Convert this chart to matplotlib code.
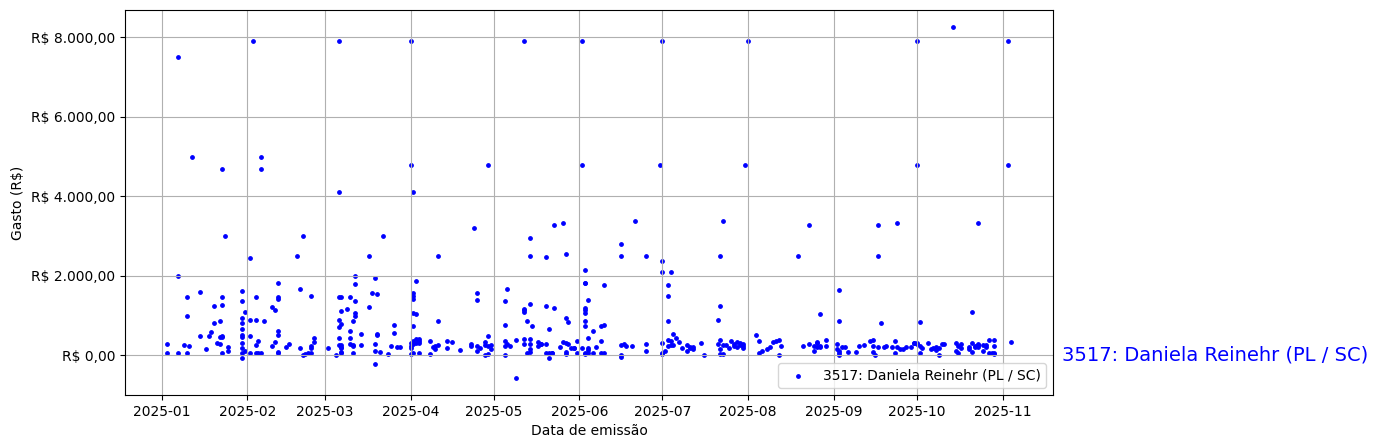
import matplotlib
matplotlib.use("Agg")
import matplotlib.pyplot as plt
import matplotlib.dates as mdates
import matplotlib.ticker as mticker
import matplotlib.transforms as mtransforms
import pandas as pd

label = "3517: Daniela Reinehr (PL / SC)"

jan = [("01-03", 285), ("01-03", 67), ("01-07", 7500), ("01-07", 2000), ("01-07", 50),
       ("01-09", 268), ("01-10", 1477), ("01-10", 998), ("01-11", 243), ("01-10", 59),
       ("01-12", 5000), ("01-15", 1602), ("01-15", 495), ("01-17", 151), ("01-18", 495),
       ("01-19", 596), ("01-20", 822), ("01-20", 1250), ("01-21", 319), ("01-22", 856),
       ("01-22", 294), ("01-22", 470), ("01-23", 4680), ("01-23", 1275), ("01-23", 1477),
       ("01-23", 495), ("01-23", 461), ("01-23", 59), ("01-24", 3000), ("01-25", 218),
       ("01-25", 109), ("01-30", 1628), ("01-30", 1376), ("01-30", 948), ("01-30", 822),
       ("01-30", 671), ("01-30", 520), ("01-30", 461), ("01-30", 319), ("01-30", 193),
       ("01-30", 67), ("01-30", -59), ("01-31", 1099), ("01-31", 109)]
feb = [("02-02", 2458), ("02-02", 495), ("02-02", 67), ("02-02", 898), ("02-03", 7900),
       ("02-04", 1477), ("02-04", 898), ("02-04", 268), ("02-04", 67), ("02-05", 369),
       ("02-05", 67), ("02-06", 5000), ("02-06", 4700), ("02-06", 67), ("02-07", 873),
       ("02-10", 243), ("02-10", 1225), ("02-11", 1150), ("02-11", 344), ("02-12", 1829),
       ("02-12", 1477), ("02-12", 1426), ("02-12", 621), ("02-12", 520), ("02-12", 92),
       ("02-12", 50), ("02-15", 218), ("02-16", 294), ("02-19", 2500), ("02-20", 1678),
       ("02-20", 193), ("02-21", 3000), ("02-21", 17), ("02-22", 42), ("02-23", 67),
       ("02-24", 67), ("02-24", 193), ("02-24", 243), ("02-25", 344), ("02-25", 445),
       ("02-24", 1502)]
mar = [("03-02", 193), ("03-05", 17), ("03-06", 7900), ("03-06", 4100), ("03-06", 898),
       ("03-06", 722), ("03-06", 445), ("03-06", 268), ("03-07", 193), ("03-07", 92),
       ("03-07", 268), ("03-07", 67), ("03-07", 218), ("03-06", 1477), ("03-07", 1477),
       ("03-07", 1124), ("03-07", 797), ("03-09", 1175), ("03-10", 1477), ("03-10", 621),
       ("03-10", 445), ("03-10", 294), ("03-11", 873), ("03-11", 243), ("03-11", 268),
       ("03-11", 67), ("03-12", 1376), ("03-12", 1074), ("03-12", 998), ("03-12", 1804),
       ("03-12", 2005), ("03-14", 268), ("03-14", 545), ("03-17", 1225), ("03-17", 2500),
       ("03-18", 1577), ("03-19", 1955), ("03-19", 294), ("03-19", 117), ("03-19", -210),
       ("03-20", 1552), ("03-20", 545), ("03-20", 520), ("03-21", 92), ("03-22", 3000),
       ("03-24", 42), ("03-25", 243), ("03-26", 570), ("03-26", 772), ("03-27", 218),
       ("03-28", 218)]
apr = [("04-01", 7900), ("04-01", 4800), ("04-01", 319), ("04-01", 243), ("04-01", 193),
       ("04-01", 42), ("04-02", 67), ("04-02", 294), ("04-02", 319), ("04-02", 369),
       ("04-03", 420), ("04-03", 319), ("04-04", 369), ("04-04", 420), ("04-04", 319),
       ("04-04", 67), ("04-02", 1577), ("04-02", 1502), ("04-02", 1426), ("04-02", 1074),
       ("04-03", 1049), ("04-02", 747), ("04-03", 1879), ("04-02", 4100), ("04-08", 42),
       ("04-08", 369), ("04-09", 218), ("04-10", 243), ("04-10", 168), ("04-11", 2500),
       ("04-11", 873), ("04-11", 268), ("04-14", 369), ("04-14", 193), ("04-16", 344),
       ("04-19", 143), ("04-23", 294), ("04-23", 243), ("04-24", 3200), ("04-25", 1577),
       ("04-25", 1401), ("04-25", 117), ("04-25", 243), ("04-26", 193), ("04-28", 268),
       ("04-28", 17), ("04-28", 344), ("04-29", 4800), ("04-29", 42), ("04-29", 495),
       ("04-29", 243), ("04-30", 168), ("04-30", 268)]
may = [("05-05", 1376), ("05-05", 772), ("05-05", 369), ("05-05", 243), ("05-05", 17),
       ("05-06", 1678), ("05-06", 294), ("05-07", 243), ("05-09", 394), ("05-09", -560),
       ("05-12", 7900), ("05-12", 1149), ("05-12", 1099), ("05-12", 1175), ("05-12", 294),
       ("05-12", 420), ("05-13", 873), ("05-13", 67), ("05-14", 2500), ("05-14", 2960),
       ("05-14", 294), ("05-14", 168), ("05-14", 92), ("05-14", 420), ("05-14", 1300),
       ("05-15", 747), ("05-17", 344), ("05-17", 243), ("05-18", 294), ("05-18", 294),
       ("05-20", 294), ("05-20", 1250), ("05-20", 2483), ("05-20", 67), ("05-21", 67),
       ("05-21", -59), ("05-21", 671), ("05-22", 67), ("05-22", 67), ("05-23", 3290),
       ("05-23", 1200), ("05-25", 218), ("05-26", 3340), ("05-26", 344), ("05-27", 2559),
       ("05-27", 948), ("05-27", 42), ("05-27", 92), ("05-27", 319), ("05-28", 294),
       ("05-28", 847), ("05-29", 193), ("05-30", 193), ("05-30", 193), ("05-31", 369),
       ("05-31", 67)]
jun = [("06-02", 7900), ("06-02", 4800), ("06-02", 193), ("06-03", 2156), ("06-03", 1812),
       ("06-03", 1829), ("06-03", 1200), ("06-03", 1149), ("06-03", 873), ("06-03", 1074),
       ("06-03", 747), ("06-03", 67), ("06-03", 42), ("06-04", 143), ("06-04", 67),
       ("06-04", 445), ("06-04", 1401), ("06-04", 193), ("06-06", 621), ("06-06", 67),
       ("06-07", 218), ("06-09", 747), ("06-09", 369), ("06-09", 67), ("06-10", 772),
       ("06-10", 1779), ("06-10", 67), ("06-16", 2811), ("06-16", 2500), ("06-16", 268),
       ("06-16", -42), ("06-16", 17), ("06-17", 294), ("06-18", 243), ("06-20", 243),
       ("06-21", 3390), ("06-25", 2500), ("06-25", 294), ("06-25", 117), ("06-30", 4800)]
jul = [("07-01", 7900), ("07-01", 2383), ("07-01", 2106), ("07-01", 319), ("07-01", 67),
       ("07-01", 42), ("07-02", 117), ("07-03", 873), ("07-03", 394), ("07-03", 1779),
       ("07-03", 1502), ("07-03", 243), ("07-04", 2106), ("07-04", 369), ("07-04", 268),
       ("07-05", 268), ("07-05", 545), ("07-06", 445), ("07-07", 344), ("07-08", 193),
       ("07-10", 268), ("07-10", 117), ("07-11", 193), ("07-11", 218), ("07-12", 168),
       ("07-12", 218), ("07-15", 319), ("07-16", 17), ("07-21", 898), ("07-21", 294),
       ("07-22", 2500), ("07-22", 168), ("07-22", 42), ("07-22", 1250), ("07-22", 394),
       ("07-23", 3390), ("07-23", 268), ("07-23", 42), ("07-24", 268), ("07-25", 193),
       ("07-26", 369), ("07-27", 294), ("07-27", 243), ("07-28", 218), ("07-28", 344),
       ("07-29", 319), ("07-29", 268), ("07-30", 243), ("07-30", 294), ("07-30", 193),
       ("07-31", 4800)]
aug = [("08-01", 7900), ("08-04", 520), ("08-05", 369), ("08-05", 67), ("08-06", 117),
       ("08-08", 168), ("08-09", 218), ("08-10", 344), ("08-11", 369), ("08-12", 394),
       ("08-12", 17), ("08-13", 243), ("08-19", 2500), ("08-21", 243), ("08-23", 3290),
       ("08-23", 294), ("08-25", 117), ("08-25", 243), ("08-26", 319), ("08-26", 344),
       ("08-26", 218), ("08-27", 1049), ("08-27", 218), ("08-27", 243), ("08-29", 394),
       ("08-29", 243)]
sep = [("09-02", 294), ("09-02", 168), ("09-03", 67), ("09-03", 17), ("09-03", 1653),
       ("09-03", 873), ("09-03", 117), ("09-04", 218), ("09-05", 218), ("09-06", 92),
       ("09-09", 92), ("09-10", 243), ("09-12", 268), ("09-14", 369), ("09-15", 394),
       ("09-15", 92), ("09-15", 243), ("09-16", 17), ("09-17", 3290), ("09-17", 2500),
       ("09-17", 218), ("09-18", 822), ("09-19", 218), ("09-20", 243), ("09-22", 218),
       ("09-23", 369), ("09-23", 67), ("09-24", 3340), ("09-24", 218), ("09-25", 168),
       ("09-26", 168), ("09-27", 218), ("09-29", 218), ("09-30", 319), ("09-30", 319)]
octo = [("10-01", 7900), ("10-01", 4800), ("10-01", 294), ("10-01", 319), ("10-02", 243),
        ("10-02", 847), ("10-02", 67), ("10-03", 193), ("10-05", 319), ("10-06", 168),
        ("10-07", 193), ("10-08", 218), ("10-08", 143), ("10-09", 17), ("10-09", 193),
        ("10-10", 294), ("10-11", 294), ("10-14", 8250), ("10-15", 319), ("10-15", 117),
        ("10-16", 67), ("10-16", 243), ("10-17", 193), ("10-17", 294), ("10-20", 218),
        ("10-20", 168), ("10-21", 1099), ("10-21", 319), ("10-21", 92), ("10-22", 243),
        ("10-22", 218), ("10-23", 3340), ("10-23", 294), ("10-23", 268), ("10-23", 218),
        ("10-23", 268), ("10-25", 268), ("10-25", 117), ("10-26", 268), ("10-26", 218),
        ("10-27", 394), ("10-27", 67), ("10-28", 67), ("10-29", 67), ("10-29", 394),
        ("10-29", 243), ("10-29", 42)]
nov = [("11-03", 7900), ("11-03", 4800), ("11-04", 344)]

records = jan + feb + mar + apr + may + jun + jul + aug + sep + octo + nov
dates = pd.to_datetime(["2025-" + d for d, _ in records])
gasto = [v for _, v in records]

yticks = [0, 2000, 4000, 6000, 8000]


def brl(v, pos=None):
    s = f"{v:,.2f}".replace(",", "X").replace(".", ",").replace("X", ".")
    return "R$ " + s


fig = plt.figure(figsize=(13.78, 4.48), dpi=100)
ax = fig.add_axes([0.0907, 0.1183, 0.6735, 0.8594])
ax.scatter(dates, gasto, s=6, color="blue", label=label)
ax.set_yticks(yticks)
ax.yaxis.set_major_formatter(mticker.FuncFormatter(brl))
ax.xaxis.set_major_locator(mdates.MonthLocator())
ax.xaxis.set_major_formatter(mdates.DateFormatter("%Y-%m"))
ax.grid(True)
ax.set_xlabel("Data de emissão")
ax.set_ylabel("Gasto (R$)")
ax.legend(loc="lower right")

trans = mtransforms.blended_transform_factory(ax.transAxes, ax.transData)
ax.text(1.0095, 0, label, transform=trans, color="blue", fontsize=14,
        va="center", ha="left")

fig.savefig("out.png", dpi=100)
